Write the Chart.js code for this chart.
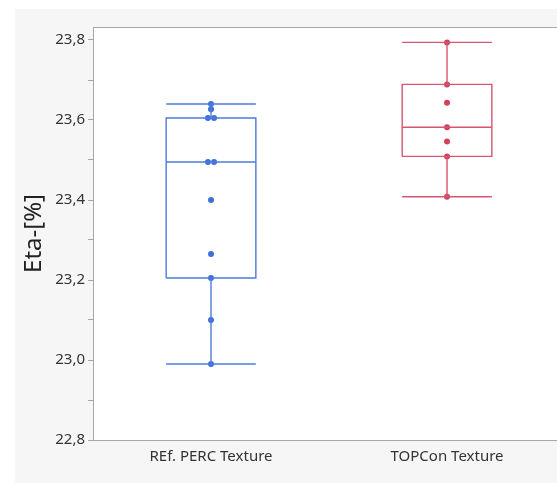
<!DOCTYPE html>
<html>
<head>
<meta charset="utf-8">
<script src="https://cdn.jsdelivr.net/npm/chart.js@4/dist/chart.umd.min.js"></script>
<style>
  html, body { margin: 0; padding: 0; background: #fff; }
  #wrap { width: 557px; height: 483px; position: relative; }
</style>
</head>
<body>
<div id="wrap"><canvas id="chartCanvas"></canvas></div>
<script>
// groups along the x axis
const categories = ['REf. PERC Texture', 'TOPCon Texture']
const categoryPos = [0.5, 1.5]

// single cell values (Eta %)
const percValues = [22.99, 23.10, 23.205, 23.265, 23.40, 23.495, 23.495, 23.605, 23.605, 23.627, 23.64]
const topconValues = [23.408, 23.509, 23.546, 23.582, 23.643, 23.689, 23.794]

// box statistics per group: min, q1, median, q3, max
const boxMin = [22.99, 23.408]
const boxQ1 = [23.205, 23.509]
const boxMedian = [23.495, 23.582]
const boxQ3 = [23.605, 23.689]
const boxMax = [23.64, 23.794]

// y ticks, labels only on the major ones
const yTicks = [22.8, 22.9, 23.0, 23.1, 23.2, 23.3, 23.4, 23.5, 23.6, 23.7, 23.8]
const yTickLabels = ['22,8', '', '23,0', '', '23,2', '', '23,4', '', '23,6', '', '23,8']

const colors = ['#3f6fd9', '#d2405c']
const lineColors = ['#4d7bdd', '#d65670']
const halfBox = 0.19
const jitter = 0.013

function segment(x1, y1, x2, y2, color) {
    return {
        type: 'line',
        data: [{x: x1, y: y1}, {x: x2, y: y2}],
        borderColor: color,
        borderWidth: 1.4,
        pointRadius: 0,
        pointHoverRadius: 0,
        fill: false
    }
}

let datasets = []
categoryPos.forEach((c, i) => {
    let col = lineColors[i]
    // box
    datasets.push({
        type: 'line',
        data: [{x: c - halfBox, y: boxQ1[i]}, {x: c + halfBox, y: boxQ1[i]}, {x: c + halfBox, y: boxQ3[i]},
               {x: c - halfBox, y: boxQ3[i]}, {x: c - halfBox, y: boxQ1[i]}],
        borderColor: col, borderWidth: 1.4, pointRadius: 0, fill: false
    })
    datasets.push(segment(c - halfBox, boxMedian[i], c + halfBox, boxMedian[i], col))
    datasets.push(segment(c, boxQ3[i], c, boxMax[i], col))
    datasets.push(segment(c, boxQ1[i], c, boxMin[i], col))
    datasets.push(segment(c - halfBox, boxMax[i], c + halfBox, boxMax[i], col))
    datasets.push(segment(c - halfBox, boxMin[i], c + halfBox, boxMin[i], col))
})

function pointsFor(values, c) {
    // spread equal values side by side
    return values.map((v, k) => {
        let same = values.filter(w => w === v).length
        if (same < 2) return {x: c, y: v}
        let idx = values.slice(0, k).filter(w => w === v).length
        return {x: c + (idx - (same - 1) / 2) * 2 * jitter, y: v}
    })
}

datasets.push({type: 'scatter', data: pointsFor(percValues, categoryPos[0]), backgroundColor: colors[0], borderWidth: 0, pointRadius: 3})
datasets.push({type: 'scatter', data: pointsFor(topconValues, categoryPos[1]), backgroundColor: colors[1], borderWidth: 0, pointRadius: 3})

const frame = {
    id: 'frame',
    beforeDraw(chart) {
        const ctx = chart.ctx
        const a = chart.chartArea
        ctx.save()
        ctx.fillStyle = '#ffffff'
        ctx.fillRect(0, 0, chart.width, chart.height)
        ctx.fillStyle = '#f6f6f6'
        ctx.fillRect(15, 9, chart.width - 15, chart.height - 9)
        ctx.fillStyle = '#ffffff'
        ctx.fillRect(a.left, a.top, chart.width - a.left, a.bottom - a.top)
        ctx.strokeStyle = '#a8a8a8'
        ctx.lineWidth = 1
        ctx.beginPath()
        ctx.moveTo(a.left, a.top + 0.5)
        ctx.lineTo(chart.width, a.top + 0.5)
        ctx.moveTo(a.right - 1, a.bottom + 0.5)
        ctx.lineTo(chart.width, a.bottom + 0.5)
        ctx.stroke()
        ctx.restore()
    }
}

Chart.defaults.font.family = '"Noto Sans", sans-serif'
Chart.defaults.color = '#333'

new Chart(document.getElementById('chartCanvas'), {
    type: 'scatter',
    data: {datasets: datasets},
    options: {
        responsive: true,
        maintainAspectRatio: false,
        animation: false,
        layout: {padding: {top: 27, right: 0, left: 0, bottom: 0}},
        plugins: {legend: {display: false}, tooltip: {enabled: false}},
        scales: {
            x: {
                type: 'linear',
                min: 0,
                max: 1.949,
                afterBuildTicks: s => { s.ticks = categoryPos.map(v => ({value: v})) },
                afterFit: s => { s.height = 43 },
                grid: {display: false, drawTicks: false},
                border: {display: true, color: '#a8a8a8'},
                ticks: {
                    padding: 8,
                    font: {size: 15},
                    color: '#333',
                    callback: v => categories[categoryPos.indexOf(v)]
                }
            },
            y: {
                type: 'linear',
                min: 22.8,
                max: 23.8325,
                afterBuildTicks: s => { s.ticks = yTicks.map(v => ({value: v})) },
                afterFit: s => { s.width = 93 },
                grid: {drawOnChartArea: false, drawTicks: true, tickLength: 5, tickColor: '#a8a8a8'},
                border: {display: true, color: '#a8a8a8'},
                ticks: {
                    padding: 3,
                    font: {size: 15},
                    color: '#333',
                    autoSkip: false,
                    callback: (v, i) => yTickLabels[i]
                },
                title: {
                    display: true,
                    text: 'Eta-[%]',
                    font: {size: 24},
                    color: '#222',
                    padding: {top: 20, bottom: 0}
                }
            }
        }
    },
    plugins: [frame]
})
</script>
</body>
</html>
